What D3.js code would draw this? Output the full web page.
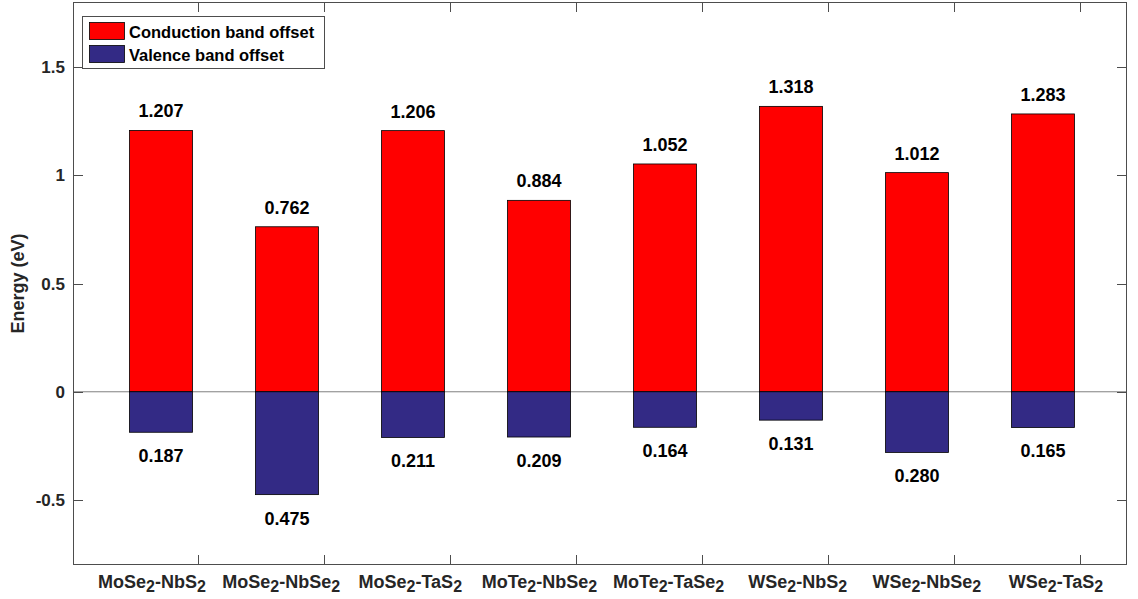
<!DOCTYPE html>
<html>
<head>
<meta charset="utf-8">
<script src="https://cdn.jsdelivr.net/npm/d3@7/dist/d3.min.js"></script>
<style>
  html, body { margin: 0; padding: 0; background: #fff; }
  svg { display: block; font-family: "Liberation Sans", Arial, sans-serif; font-weight: bold; }
</style>
</head>
<body>
<svg id="chart" width="1138" height="599"></svg>
<script>
// Heterostructure labels (digit 2 is drawn as a subscript)
const categories = ["MoSe2-NbS2", "MoSe2-NbSe2", "MoSe2-TaS2", "MoTe2-NbSe2",
                    "MoTe2-TaSe2", "WSe2-NbS2", "WSe2-NbSe2", "WSe2-TaS2"];
// Conduction band offsets (eV), drawn upward
const conductionOffset = [1.207, 0.762, 1.206, 0.884, 1.052, 1.318, 1.012, 1.283];
// Valence band offsets (eV), drawn downward
const valenceOffset = [0.187, 0.475, 0.211, 0.209, 0.164, 0.131, 0.280, 0.165];
const yTicks = [-0.5, 0, 0.5, 1, 1.5];
const yTickLabels = ["-0.5", "0", "0.5", "1", "1.5"];
const seriesNames = ["Conduction band offset", "Valence band offset"];

const colors = { cbo: "#ff0000", vbo: "#332a85" };
const axisColor = "#4d4d4d";

const svg = d3.select("#chart");
const plot = { left: 73, right: 1127, top: 2, bottom: 565 };

const y = d3.scaleLinear().domain([-0.8, 1.8]).range([plot.bottom, plot.top]);
const x = d3.scaleBand().domain(categories).range([98, 1106])
  .paddingInner(0.5).paddingOuter(0.25);
// tick marks along the horizontal axes
const xTick = d3.scaleLinear().domain([0, categories.length - 1]).range([198, 1080]);
// category label anchors
const xLabel = d3.scalePoint().domain(categories).range([152, 1056]);

// zero reference line
svg.append("line")
  .attr("x1", plot.left).attr("x2", plot.right)
  .attr("y1", y(0)).attr("y2", y(0))
  .attr("stroke", "#808080").attr("stroke-width", 1);

// conduction bars
svg.append("g").selectAll("rect").data(conductionOffset).join("rect")
  .attr("x", (d, i) => x(categories[i]))
  .attr("width", x.bandwidth())
  .attr("y", d => y(d))
  .attr("height", d => y(0) - y(d))
  .attr("fill", colors.cbo)
  .attr("stroke", "#000").attr("stroke-width", 0.8);

// valence bars
svg.append("g").selectAll("rect").data(valenceOffset).join("rect")
  .attr("x", (d, i) => x(categories[i]))
  .attr("width", x.bandwidth())
  .attr("y", y(0))
  .attr("height", d => y(-d) - y(0))
  .attr("fill", colors.vbo)
  .attr("stroke", "#000").attr("stroke-width", 0.8);

// value annotations
svg.append("g").selectAll("text").data(conductionOffset).join("text")
  .attr("x", (d, i) => x(categories[i]) + x.bandwidth() / 2)
  .attr("y", d => y(d) - 13)
  .attr("text-anchor", "middle")
  .attr("font-size", 18).attr("fill", "#000")
  .text(d => d.toFixed(3));

svg.append("g").selectAll("text").data(valenceOffset).join("text")
  .attr("x", (d, i) => x(categories[i]) + x.bandwidth() / 2)
  .attr("y", d => y(-d) + 30)
  .attr("text-anchor", "middle")
  .attr("font-size", 18).attr("fill", "#000")
  .text(d => d.toFixed(3));

// axes box
const axes = svg.append("g").attr("stroke", axisColor).attr("stroke-width", 1).attr("fill", "none");
axes.append("rect")
  .attr("x", plot.left + 0.5).attr("y", plot.top + 0.5)
  .attr("width", plot.right - plot.left - 1).attr("height", plot.bottom - plot.top - 1);

const tickLen = 10;
// y ticks (left and right, pointing inward)
yTicks.forEach(v => {
  const yy = Math.round(y(v)) + 0.5;
  axes.append("line").attr("x1", plot.left).attr("x2", plot.left + tickLen).attr("y1", yy).attr("y2", yy);
  axes.append("line").attr("x1", plot.right - tickLen).attr("x2", plot.right).attr("y1", yy).attr("y2", yy);
});
// x ticks (bottom and top, pointing inward)
categories.forEach((c, i) => {
  const xx = Math.round(xTick(i)) + 0.5;
  axes.append("line").attr("x1", xx).attr("x2", xx).attr("y1", plot.bottom).attr("y2", plot.bottom - tickLen);
  axes.append("line").attr("x1", xx).attr("x2", xx).attr("y1", plot.top).attr("y2", plot.top + tickLen);
});

// y tick labels
svg.append("g").selectAll("text").data(yTicks).join("text")
  .attr("x", plot.left - 8)
  .attr("y", d => y(d) + 6)
  .attr("text-anchor", "end")
  .attr("font-size", 17).attr("fill", "#262626")
  .text((d, i) => yTickLabels[i]);

// category labels with subscript digits
const catLabels = svg.append("g").selectAll("text").data(categories).join("text")
  .attr("x", d => xLabel(d))
  .attr("y", 588)
  .attr("text-anchor", "middle")
  .attr("font-size", 18).attr("fill", "#262626");
catLabels.each(function(d) {
  const t = d3.select(this);
  let shift = 0;
  d.split(/(2)/).filter(s => s.length).forEach(part => {
    if (part === "2") {
      t.append("tspan").attr("font-size", 16).attr("dy", 4 - shift).text("2");
      shift = 4;
    } else {
      t.append("tspan").attr("dy", -shift).text(part);
      shift = 0;
    }
  });
});

// y axis title
svg.append("text")
  .attr("transform", `translate(24, ${(plot.top + plot.bottom) / 2}) rotate(-90)`)
  .attr("text-anchor", "middle")
  .attr("font-size", 18).attr("fill", "#262626")
  .text("Energy (eV)");

// legend
const legend = svg.append("g");
legend.append("rect")
  .attr("x", 82.5).attr("y", 16.5).attr("width", 242).attr("height", 52)
  .attr("fill", "#fff").attr("stroke", axisColor).attr("stroke-width", 1);
[colors.cbo, colors.vbo].forEach((col, i) => {
  legend.append("rect")
    .attr("x", 89.5).attr("y", 22.5 + i * 23).attr("width", 35).attr("height", 17)
    .attr("fill", col).attr("stroke", "#000").attr("stroke-width", 0.8);
  legend.append("text")
    .attr("x", 129).attr("y", 37.5 + i * 23)
    .attr("font-size", 16.5).attr("fill", "#000")
    .text(seriesNames[i]);
});
</script>
</body>
</html>
